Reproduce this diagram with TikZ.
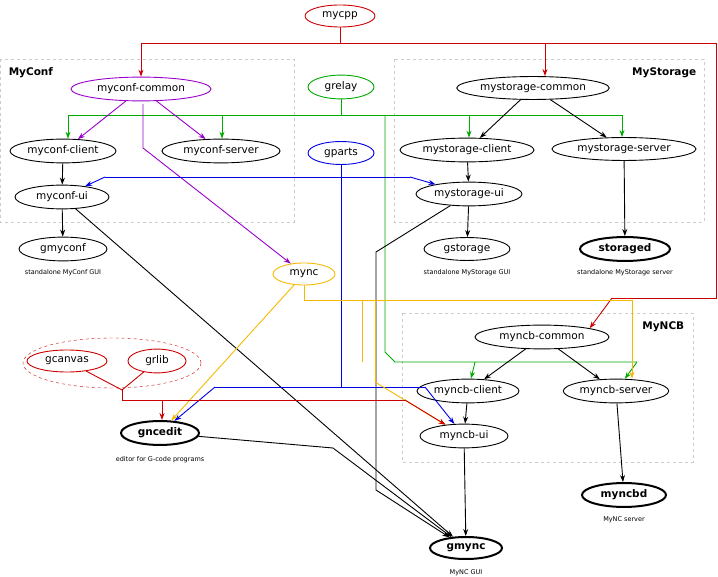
\documentclass[tikz,border=0pt]{standalone}
\usepackage{fontspec}
\setmainfont{DejaVu Sans}
\usetikzlibrary{arrows.meta,shapes.geometric}
\definecolor{cred}{RGB}{204,0,0}
\definecolor{cgreen}{RGB}{0,170,0}
\definecolor{cblue}{RGB}{0,0,230}
\definecolor{cpurple}{RGB}{153,0,204}
\definecolor{corange}{RGB}{245,185,0}
\begin{document}
\begin{tikzpicture}[x=1pt,y=-1pt,font=\fontsize{10.5}{12}\selectfont,line width=0.9pt,
	pkg/.style={ellipse,draw,minimum height=22pt,inner xsep=1pt},
	prog/.style={pkg,line width=2pt,font=\fontsize{10.5}{12}\selectfont\bfseries},
	group/.style={draw=gray!40,dashed},
	caption/.style={font=\fontsize{6.5}{7}\selectfont},
	dep/.style={-{Stealth[length=7pt,width=5pt]}}]
	\useasboundingbox (0,0) rectangle (718,577);
	\tikzstyle{title} = [font=\fontsize{10.5}{12}\selectfont\bfseries]

	% groups
	\draw[group] (0,59) rectangle (294,222);
	\node[title,anchor=west] (tconf) at (5,73) {MyConf};
	\draw[group] (394,59) rectangle (704,222);
	\node[title,anchor=east] (tstor) at (700,73) {MyStorage};
	\draw[group] (402,313) rectangle (693,462);
	\node[title,anchor=east] (tncb) at (688,327) {MyNCB};

	% packages
	\node[pkg,draw=cred,minimum width=70pt] (mycpp) at (340,16) {mycpp};
	\node[pkg,draw=cpurple,minimum width=140pt] (cc) at (141,89) {myconf-common};
	\node[pkg,draw=cgreen,minimum width=66pt] (grelay) at (341,87) {grelay};
	\node[pkg,minimum width=142pt] (sc) at (533,88) {mystorage-common};
	\node[pkg,minimum width=106pt] (ccl) at (63,151) {myconf-client};
	\node[pkg,minimum width=118pt] (csv) at (221,151) {myconf-server};
	\node[pkg,draw=cblue,minimum width=66pt] (gparts) at (341,153) {gparts};
	\node[pkg,minimum width=134pt] (scl) at (467,150) {mystorage-client};
	\node[pkg,minimum width=144pt] (ssv) at (624,149) {mystorage-server};
	\node[pkg,minimum width=94pt] (cui) at (62,197) {myconf-ui};
	\node[pkg,minimum width=106pt] (sui) at (469,194) {mystorage-ui};
	\node[pkg,minimum width=88pt] (gmyconf) at (63,249) {gmyconf};
	\node[caption] (lgmyconf) at (63,273) {standalone MyConf GUI};
	\node[pkg,minimum width=86pt] (gstorage) at (467,249) {gstorage};
	\node[caption] (lgstorage) at (467,273) {standalone MyStorage GUI};
	\node[prog,minimum width=90pt] (storaged) at (625,249) {storaged};
	\node[caption] (lstoraged) at (625,273) {standalone MyStorage server};
	\node[pkg,draw=corange,minimum width=62pt] (mync) at (304,274) {mync};
	\node[pkg,minimum width=134pt] (bc) at (542,337) {myncb-common};
	\node[pkg,minimum width=102pt] (bcl) at (468,391) {myncb-client};
	\node[pkg,minimum width=104pt] (bsv) at (616,391) {myncb-server};
	\node[pkg,minimum width=88pt] (bui) at (464,436) {myncb-ui};
	\node[pkg,draw=cred,minimum width=80pt] (gcanvas) at (67,361) {gcanvas};
	\node[pkg,draw=cred,minimum width=58pt] (grlib) at (157,361) {grlib};
	\node[ellipse,draw=cred,dashed,thin,minimum width=178pt,minimum height=50pt] (gfx) at (112,363) {};
	\node[prog,minimum width=78pt] (gncedit) at (160,433) {gncedit};
	\node[caption] (lgncedit) at (160,460) {editor for G-code programs};
	\node[prog,minimum width=84pt] (myncbd) at (624,495) {myncbd};
	\node[caption] (lmyncbd) at (624,520) {MyNC server};
	\node[prog,minimum width=72pt] (gmync) at (466,548) {gmync};
	\node[caption] (lgmync) at (466,573) {MyNC GUI};

	% mycpp
	\draw[cred] (mycpp) -- (340,43);
	\draw[cred,dep] (141,43) -- (cc);
	\draw[cred] (141,43) -- (716,43) -- (716,298) -- (612,298);
	\draw[cred,dep] (545,43) -- (545,43 |- sc.north);
	\draw[cred,dep] (612,298) -- (bc.north east);

	% grelay
	\draw[cgreen] (grelay) -- (341,115);
	\draw[cgreen] (68,115) -- (622,115);
	\draw[cgreen,dep] (68,115) -- (68,115 |- ccl.north);
	\draw[cgreen,dep] (222,115) -- (222,115 |- csv.north);
	\draw[cgreen,dep] (469,115) -- (469,115 |- scl.north);
	\draw[cgreen,dep] (622,115) -- (622,115 |- ssv.north);
	\draw[cgreen] (385,115) -- (385,352) -- (395,362) -- (637,362);
	\draw[cgreen,dep] (475,362) -- (bcl);
	\draw[cgreen,dep] (637,362) -- (bsv);

	% myconf-common
	\draw[cpurple,dep] (cc) -- (ccl);
	\draw[cpurple,dep] (cc) -- (csv);
	\draw[cpurple,dep] (143,104) -- (143,148) -- (mync);

	% black dependencies
	\draw[dep] (sc) -- (scl);
	\draw[dep] (sc) -- (ssv);
	\draw[dep] (ccl) -- (cui);
	\draw[dep] (scl) -- (sui);
	\draw[dep] (cui) -- (gmyconf);
	\draw[dep] (sui) -- (gstorage);
	\draw[dep] (ssv) -- (storaged);
	\draw[dep] (bc) -- (bcl);
	\draw[dep] (bc) -- (bsv);
	\draw[dep] (bcl) -- (bui);
	\draw[dep] (bui) -- (gmync);
	\draw[dep] (bsv) -- (myncbd);
	\draw[dep] (cui) -- (gmync);
	\draw[dep] (sui) -- (376,252) -- (376,490) -- (gmync);
	\draw[dep] (gncedit) -- (333,448) -- (gmync);

	% gparts
	\draw[cblue,dep] (105,177) -- (cui);
	\draw[cblue] (105,177) -- (410,177);
	\draw[cblue,dep] (410,177) -- (sui);
	\draw[cblue] (gparts) -- (341,387);
	\draw[cblue] (215,387) -- (425,387);
	\draw[cblue,dep] (215,387) -- (gncedit);
	\draw[cblue,dep] (425,387) -- (bui);

	% mync
	\draw[corange] (mync) -- (304,300) -- (632,300);
	\draw[corange,dep] (632,300) -- (632,300 |- bsv.north);
	\draw[corange,dep] (mync) -- (gncedit);
	\draw[corange] (362,300) -- (362,362);
	\draw[corange] (375,300) -- (375,382);
	\draw[corange,dep] (375,382) -- (bui);

	% graphics libs
	\draw[cred] (gcanvas) -- (122,390);
	\draw[cred] (grlib) -- (122,390);
	\draw[cred] (122,390) -- (122,400) -- (405,400);
	\draw[cred,dep] (405,400) -- (bui);
	\draw[cred,dep] (162,400) -- (162,400 |- gncedit.north);
\end{tikzpicture}
\end{document}
